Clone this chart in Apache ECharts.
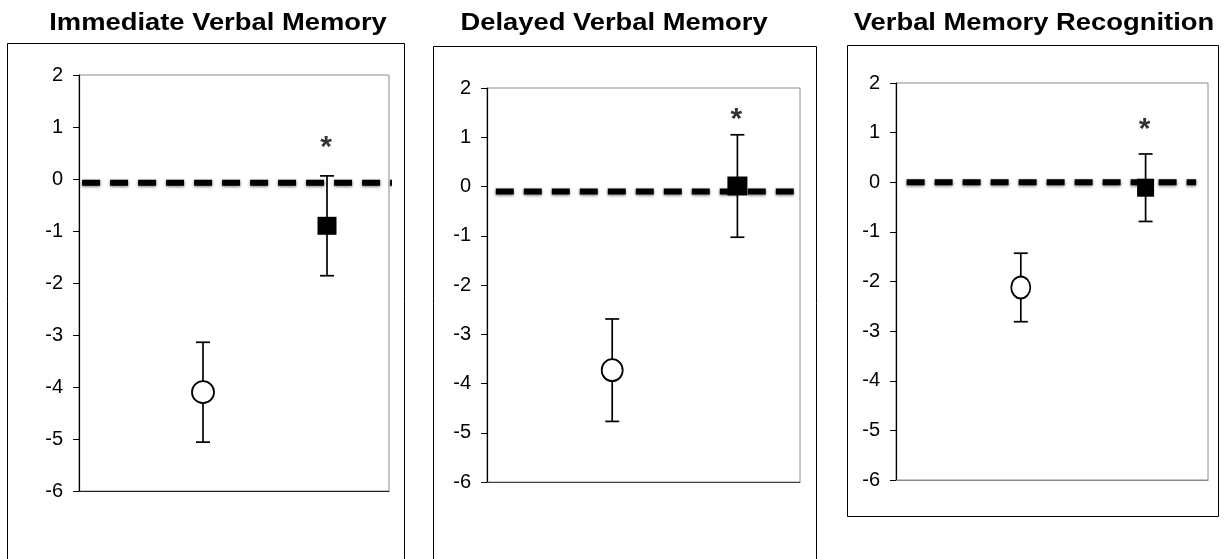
<!DOCTYPE html>
<html>
<head>
<meta charset="utf-8">
<script src="https://cdn.jsdelivr.net/npm/echarts/dist/echarts.min.js"></script>
<style>
html,body{margin:0;padding:0;background:#fff;}
#chart{width:1224px;height:559px;}
</style>
</head>
<body>
<div id="chart"></div>
<script>
// ---- data ----
const panelTitles = ['Immediate Verbal Memory', 'Delayed Verbal Memory', 'Verbal Memory Recognition'];
const groupX = [2, 4];                       // x positions of the two groups (axis 0..5)
const circleMean = [-4.10, -3.73, -2.12];
const circleErr  = [0.96, 1.04, 0.69];
const squareMean = [-0.90, 0.01, -0.11];
const squareErr  = [0.96, 1.04, 0.68];
const refLineY   = [-0.07, -0.10, 0.00];     // thick dashed reference line
const refLineXStart = [0.05, 0.14, 0.17];
const refLineXEnd   = [5.13, 5.00, 4.81];
const starY = [0.60, 1.36, 1.06];            // significance asterisk position
const yMin = -6, yMax = 2, yInterval = 1;
const xMin = 0, xMax = 5;

// ---- layout / style ----
const grids = [
  {left: 79, top: 75, width: 310, height: 416},
  {left: 487, top: 88, width: 313, height: 394},
  {left: 896, top: 83, width: 312, height: 397}
];
const boxes = [
  {x: 7.5, y: 43.5, w: 397, h: 540},
  {x: 433.5, y: 46.5, w: 383, h: 540},
  {x: 847.5, y: 45.5, w: 371, h: 471}
];
const titleCenters = [218, 614, 1034];
const xAxisColors = ['#222', '#444', '#888'];
const circleSizes = [[22, 22], [21, 22], [19, 22]];
const squareSizes = [[19, 18], [20, 19], [17, 18]];
const FONT = 'Liberation Sans, Arial, sans-serif';

const chart = echarts.init(document.getElementById('chart'));

const option = {
  backgroundColor: '#fff',
  animation: false,
  grid: [], xAxis: [], yAxis: [], series: [], graphic: []
};

function errRender(params, api) {
  const x = api.value(0), m = api.value(1), e = api.value(2);
  const top = api.coord([x, m + e]);
  const bot = api.coord([x, m - e]);
  const cap = 7;
  const style = {stroke: '#000', lineWidth: 1.7, fill: null};
  return {
    type: 'group',
    children: [
      {type: 'line', shape: {x1: top[0], y1: top[1], x2: bot[0], y2: bot[1]}, style: style},
      {type: 'line', shape: {x1: top[0] - cap, y1: top[1], x2: top[0] + cap, y2: top[1]}, style: style},
      {type: 'line', shape: {x1: bot[0] - cap, y1: bot[1], x2: bot[0] + cap, y2: bot[1]}, style: style}
    ]
  };
}

for (let i = 0; i < 3; i++) {
  const g = grids[i];
  option.grid.push({left: g.left, top: g.top, width: g.width, height: g.height,
    show: true, borderColor: '#8c8c8c', borderWidth: 1, backgroundColor: 'transparent'});
  option.xAxis.push({
    type: 'value', gridIndex: i, min: xMin, max: xMax,
    axisLine: {show: true, onZero: false, lineStyle: {color: xAxisColors[i], width: 1}},
    axisTick: {show: false}, axisLabel: {show: false}, splitLine: {show: false}
  });
  option.yAxis.push({
    type: 'value', gridIndex: i, min: yMin, max: yMax, interval: yInterval,
    axisLine: {show: true, onZero: false, lineStyle: {color: '#000', width: 1.2}},
    axisTick: {show: true, length: 6, lineStyle: {color: '#000', width: 1}},
    axisLabel: {color: '#000', fontSize: 20, fontFamily: FONT, margin: 16},
    splitLine: {show: false}
  });
  // error bars
  option.series.push({
    type: 'custom', xAxisIndex: i, yAxisIndex: i, z: 2,
    renderItem: errRender,
    data: [[groupX[0], circleMean[i], circleErr[i]], [groupX[1], squareMean[i], squareErr[i]]]
  });
  // circle marker
  option.series.push({
    type: 'scatter', xAxisIndex: i, yAxisIndex: i, z: 3,
    symbol: 'circle', symbolSize: circleSizes[i],
    itemStyle: {color: '#fff', borderColor: '#000', borderWidth: 1.8, opacity: 1},
    data: [[groupX[0], circleMean[i]]]
  });
  // square marker
  option.series.push({
    type: 'scatter', xAxisIndex: i, yAxisIndex: i, z: 3,
    symbol: 'rect', symbolSize: squareSizes[i],
    itemStyle: {color: '#000', opacity: 1},
    data: [[groupX[1], squareMean[i]]]
  });
  // dashed reference line
  option.series.push({
    type: 'line', xAxisIndex: i, yAxisIndex: i, z: 4, clip: false,
    symbol: 'none', silent: true,
    lineStyle: {color: '#000', width: 6, type: [18, 10], cap: 'butt',
      shadowColor: 'rgba(0,0,0,0.55)', shadowBlur: 3, shadowOffsetY: 1},
    data: [[refLineXStart[i], refLineY[i]], [refLineXEnd[i], refLineY[i]]]
  });
  // asterisk
  option.series.push({
    type: 'scatter', xAxisIndex: i, yAxisIndex: i, z: 5,
    symbol: 'circle', symbolSize: 0, itemStyle: {color: 'transparent'},
    label: {show: true, position: 'inside', formatter: '*', color: '#000',
      fontSize: 30, fontWeight: 'bold', fontFamily: FONT, offset: [-1, 0]},
    data: [[groupX[1], starY[i]]]
  });
  // outer box
  const b = boxes[i];
  option.graphic.push({type: 'rect', shape: {x: b.x, y: b.y, width: b.w, height: b.h},
    style: {fill: null, stroke: '#000', lineWidth: 1}, silent: true, z: 0});
  // title
  option.graphic.push({type: 'text', x: titleCenters[i], y: 23, scaleX: 1.14,
    style: {text: panelTitles[i], fill: '#000', font: 'bold 24px ' + FONT,
      textAlign: 'center', textVerticalAlign: 'middle'}, silent: true});
}

chart.setOption(option);
</script>
</body>
</html>
